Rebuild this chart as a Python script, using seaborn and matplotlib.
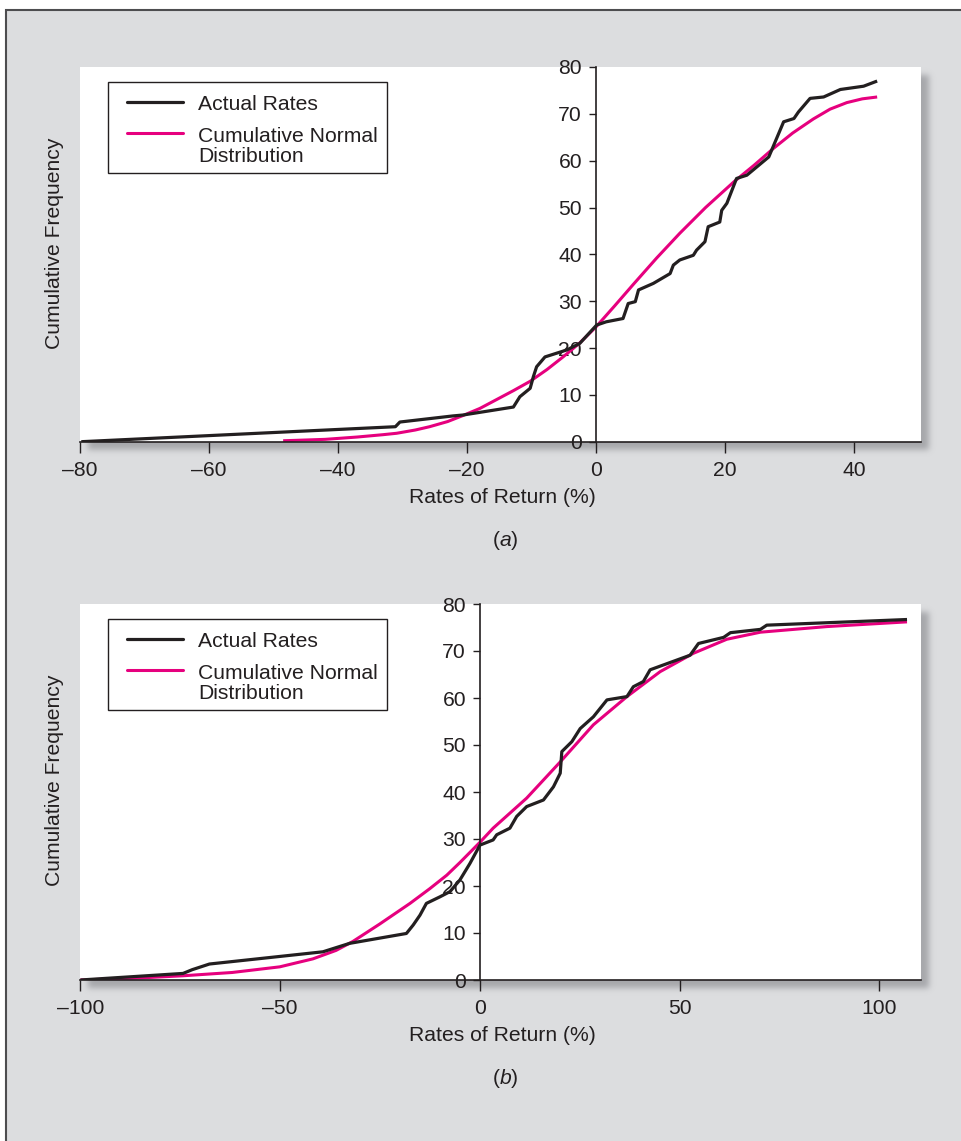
import math
import numpy as np
import pandas as pd
import matplotlib
matplotlib.use("Agg")
import matplotlib.pyplot as plt
from matplotlib.patches import Rectangle
from matplotlib.ticker import FixedLocator, FuncFormatter
import seaborn as sns

# ---- Panel (a): cumulative frequency of annual rates of return ----
a_actual_x = [-79.8, -31.1, -30.4, -22.2, -20.6, -12.8, -11.8, -10.2, -9.7, -9.2,
              -7.9, -4.5, -2.5, 0.1, 1.6, 4.2, 5.0, 6.1, 6.6, 8.9,
              11.5, 12.0, 13.0, 15.1, 15.6, 16.9, 17.4, 19.2, 19.5, 20.3,
              21.8, 23.4, 26.8, 29.1, 30.7, 31.4, 33.2, 35.3, 37.9, 41.5, 43.6]
a_actual_y = [0.0, 3.2, 4.2, 5.5, 5.7, 7.4, 9.6, 11.4, 13.9, 16.0,
              18.1, 19.6, 21.0, 24.9, 25.6, 26.3, 29.5, 29.9, 32.4, 33.8,
              35.9, 37.7, 38.8, 39.8, 40.9, 42.7, 45.9, 46.9, 49.4, 50.9,
              56.2, 56.9, 60.8, 68.3, 69.0, 70.4, 73.3, 73.6, 75.2, 75.9, 77.0]
a_normal_x = [-48.5, -42.0, -37.0, -33.0, -30.9, -28.0, -25.8, -23.0, -20.6, -18.0,
              -15.4, -12.8, -10.2, -7.6, -5.1, -2.5, 0.0, 2.9, 5.8, 9.4,
              13.0, 17.0, 21.4, 24.5, 27.5, 30.5, 33.7, 36.3, 38.9, 41.3, 43.6]
a_normal_y = [0.2, 0.5, 1.0, 1.5, 1.8, 2.5, 3.2, 4.3, 5.6, 7.1,
              9.0, 10.9, 12.9, 15.4, 18.1, 21.1, 24.5, 29.0, 33.6, 39.2,
              44.5, 50.0, 55.5, 59.0, 62.6, 65.9, 68.9, 71.0, 72.4, 73.2, 73.6]
a_xticks = [-80, -60, -40, -20, 0, 20, 40]

# ---- Panel (b) ----
b_actual_x = [-100.0, -74.3, -72.0, -67.7, -39.3, -32.6, -18.4, -16.7, -15.0, -13.4,
              -10.0, -7.5, -5.0, -2.5, 0.0, 3.3, 4.2, 7.5, 9.2, 11.7,
              15.9, 18.4, 20.1, 20.5, 23.0, 25.1, 28.4, 31.8, 36.8, 38.4,
              40.9, 42.6, 52.6, 54.7, 61.0, 62.7, 70.2, 71.8, 106.9]
b_actual_y = [0.0, 1.4, 2.2, 3.4, 6.0, 7.8, 9.9, 11.7, 13.8, 16.3,
              17.7, 18.8, 21.3, 24.8, 28.7, 29.8, 30.9, 32.3, 34.8, 36.9,
              38.3, 41.1, 44.0, 48.6, 50.7, 53.5, 56.0, 59.6, 60.3, 62.4,
              63.5, 66.0, 69.1, 71.6, 72.9, 73.9, 74.6, 75.5, 76.7]
b_normal_x = [-100.0, -86.0, -74.3, -62.0, -50.1, -41.8, -36.0, -31.8, -25.1, -17.5,
              -12.6, -8.3, -5.0, 0.0, 3.3, 11.7, 20.1, 28.4, 36.8, 45.1,
              53.4, 61.8, 70.2, 86.9, 106.9]
b_normal_y = [0.0, 0.4, 0.9, 1.6, 2.8, 4.5, 6.3, 8.2, 11.9, 16.3,
              19.4, 22.3, 25.0, 29.3, 32.3, 38.7, 46.4, 54.3, 60.3, 65.6,
              69.5, 72.5, 74.0, 75.2, 76.2]
b_xticks = [-100, -50, 0, 50, 100]

y_ticks = [0, 10, 20, 30, 40, 50, 60, 70, 80]
series_names = ["Actual Rates", "Cumulative Normal Distribution"]

# ---- style ----
INK = "#231f20"
BLACK = "#231f20"
PINK = "#e6007e"
PAGE = "#dcdddf"

sns.set_theme(style="white")
plt.rcParams["font.family"] = ["Liberation Sans", "DejaVu Sans"]
plt.rcParams["mathtext.fontset"] = "custom"
plt.rcParams["mathtext.rm"] = "Liberation Sans"
plt.rcParams["mathtext.it"] = "Liberation Sans:italic"
plt.rcParams["text.color"] = INK
plt.rcParams["xtick.color"] = INK
plt.rcParams["ytick.color"] = INK
plt.rcParams["axes.labelcolor"] = INK

W, H = 962, 1141
FS = 15.2
LW_BLACK = 2.3
LW_PINK = 2.2
fig = plt.figure(figsize=(W / 100, H / 100), dpi=100)
fig.patch.set_facecolor("white")

# page background, frame and soft drop shadows behind the plot areas
bg = fig.add_axes([0, 0, 1, 1], zorder=0)
bg.set_xlim(0, W)
bg.set_ylim(H, 0)
bg.axis("off")
bg.add_patch(Rectangle((6.5, 9.5), W + 40, H + 40, facecolor=PAGE,
                       edgecolor="#4d4d4f", lw=1.5))

# plot-area boxes in pixels: left, top, right, bottom
boxes = [(80, 67, 921, 441.7), (80, 604, 921, 980)]

erf = np.vectorize(math.erf)


def soft_band(coords, lo, hi, s):
    k = s * math.sqrt(2)
    return 0.5 * (erf((coords - lo) / k) - erf((coords - hi) / k))


xs = np.arange(W) + 0.5
ys = np.arange(H) + 0.5
shade = np.zeros((H, W))
for (l, t, r, b) in boxes:
    shade = np.maximum(shade, np.outer(soft_band(ys, t + 8, b + 8, 3.0),
                                       soft_band(xs, l + 8, r + 8, 3.0)))
rgba = np.zeros((H, W, 4))
rgba[..., 0] = 0.60
rgba[..., 1] = 0.605
rgba[..., 2] = 0.62
rgba[..., 3] = shade * 0.8
bg.imshow(rgba, extent=(0, W, H, 0), interpolation="bilinear", zorder=1)


def en_dash(v, pos):
    return f"{v:.0f}".replace("-", "\u2013")


panels = [
    dict(box=boxes[0], xlim=(-80.0, 50.4), xticks=a_xticks,
         actual=(a_actual_x, a_actual_y), normal=(a_normal_x, a_normal_y), tag="a"),
    dict(box=boxes[1], xlim=(-100.1, 110.4), xticks=b_xticks,
         actual=(b_actual_x, b_actual_y), normal=(b_normal_x, b_normal_y), tag="b"),
]

axes = []
for p in panels:
    l, t, r, b = p["box"]
    ax = fig.add_axes([l / W, 1 - b / H, (r - l) / W, (b - t) / H], zorder=2)
    ax.set_facecolor("white")

    df_act = pd.DataFrame({"x": p["actual"][0], "y": p["actual"][1]})
    df_nor = pd.DataFrame({"x": p["normal"][0], "y": p["normal"][1]})
    sns.lineplot(data=df_nor, x="x", y="y", ax=ax, color=PINK, lw=LW_PINK,
                 sort=False, estimator=None, solid_joinstyle="round",
                 solid_capstyle="butt")
    sns.lineplot(data=df_act, x="x", y="y", ax=ax, color=BLACK, lw=LW_BLACK,
                 sort=False, estimator=None, solid_joinstyle="round",
                 solid_capstyle="butt")

    ax.set_xlim(*p["xlim"])
    ax.set_ylim(0, 80)

    for side in ("top", "right"):
        ax.spines[side].set_visible(False)
    ax.spines["left"].set_position(("data", 0))
    for side in ("left", "bottom"):
        ax.spines[side].set_color(INK)
        ax.spines[side].set_linewidth(1.2)

    ax.xaxis.set_major_locator(FixedLocator(p["xticks"]))
    ax.xaxis.set_major_formatter(FuncFormatter(en_dash))
    ax.yaxis.set_major_locator(FixedLocator(y_ticks))
    ax.yaxis.set_major_formatter(FuncFormatter(en_dash))
    ax.tick_params(axis="x", direction="out", length=8, width=1.0, pad=6,
                   labelsize=FS, bottom=True)
    ax.tick_params(axis="y", direction="out", length=5, width=1.0, pad=5,
                   labelsize=FS, left=True)

    # axis titles, placed by pixel offsets from the plot-area edges
    ax.set_xlabel("Rates of Return (%)", fontsize=FS, va="center")
    ax.xaxis.set_label_coords((502 - l) / (r - l), -55.5 / (b - t))
    ax.set_ylabel("Cumulative Frequency", fontsize=FS, va="center", ha="center")
    ax.yaxis.set_label_coords((55 - l) / (r - l), (b - t - 176) / (b - t))
    axes.append(ax)

# overlay for keys and panel captions, in pixel units
ov = fig.add_axes([0, 0, 1, 1], zorder=3)
ov.set_xlim(0, W)
ov.set_ylim(H, 0)
ov.axis("off")
ov.patch.set_alpha(0)


def draw_key(top):
    ov.add_patch(Rectangle((107.7, top + 15.3), 279, 91, fill=False,
                           edgecolor=INK, lw=1.0))
    ov.plot([126.7, 183.3], [top + 35.3] * 2, color=BLACK, lw=LW_BLACK)
    ov.plot([126.7, 183.3], [top + 66.3] * 2, color=PINK, lw=LW_PINK)
    ov.text(198, top + 43.0, series_names[0], fontsize=FS, va="baseline")
    first, second = "Cumulative Normal", "Distribution"
    ov.text(198, top + 74.7, first, fontsize=FS, va="baseline")
    ov.text(198, top + 94.7, second, fontsize=FS, va="baseline")


for p in panels:
    l, t, r, b = p["box"]
    draw_key(t)
    ov.text(505, b + 99, r"($\it{" + p["tag"] + r"}$)", fontsize=FS,
            ha="center", va="center")

fig.savefig("out.png", dpi=100, facecolor=fig.get_facecolor())
